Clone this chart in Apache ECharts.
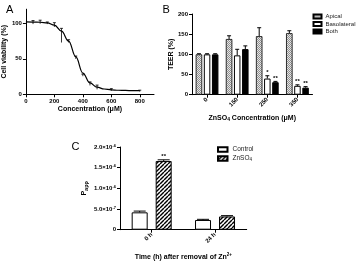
<!DOCTYPE html>
<html><head><meta charset="utf-8">
<script src="https://cdn.jsdelivr.net/npm/echarts@6/dist/echarts.min.js"></script>
<style>html,body{margin:0;padding:0;background:#fff}#c{width:356px;height:262px}</style>
</head><body><div id="c"></div>
<script>
// ---- Panel A: cell viability ----
const aTicksX = [0, 200, 400, 600, 800];
const aTicksY = [0, 50, 100];
const aConc = [50, 100, 150, 200, 250, 300, 350, 400, 450, 500, 600, 800];
const aMean = [101.5, 102, 100.5, 98, 83, 75, 52, 27, 15, 10, 6.5, 4.8];
const aErr  = [2.5, 2.5, 1.5, 3, 10, 2, 2, 1.5, 2.5, 3, 1.5, 1];
const aFitX = [0, 50, 100, 150, 200, 250, 300, 350, 400, 450, 500, 550, 600, 650, 700, 750, 800];
const aFitY = [102, 101.9, 101.6, 100.8, 97.5, 89, 75, 53, 30, 16, 10, 7.5, 6.3, 5.7, 5.4, 5.2, 5.1];
// ---- Panel B: TEER ----
const bCats = ['0', '150', '250', '350'];
const bTicksY = [0, 50, 100, 150, 200];
const bApical = [100, 138, 145, 152.5];
const bApicalErr = [1.5, 8, 21, 6];
const bBaso = [100, 97.5, 40, 22];
const bBasoErr = [1.5, 15, 7, 2.5];
const bBoth = [100, 113, 31, 17.5];
const bBothErr = [1.5, 8, 2, 2.5];
const bBasoStars = ['', '', '*', '**'];
const bBothStars = ['', '', '**', '**'];
// ---- Panel C: Papp ----
const cCats = ['0 h', '24 h'];
const cControl = [4.2e-7, 2.35e-7];
const cControlErr = [0.3e-7, 0.16e-7];
const cZn = [1.66e-6, 3.2e-7];
const cZnErr = [0.03e-6, 0.2e-7];
const cZnStars = ['**', ''];
const cTickLabels = [['0', ''], ['5.0×10', '-7'], ['1.0×10', '-6'], ['1.5×10', '-6'], ['2.0×10', '-6']];

const FONT = 'Arial, "Liberation Sans", sans-serif';

function makePattern(w, h, draw) {
  const c = document.createElement('canvas');
  c.width = w; c.height = h;
  draw(c.getContext('2d'));
  return { image: c, repeat: 'repeat' };
}
const apicalPat = makePattern(2, 2, ctx => {
  ctx.fillStyle = '#e6e6e6'; ctx.fillRect(0, 0, 2, 2);
  ctx.fillStyle = '#8f8f8f'; ctx.fillRect(0, 0, 1, 1); ctx.fillRect(1, 1, 1, 1);
});
const stripePat = makePattern(4, 4, ctx => {
  ctx.fillStyle = '#fff'; ctx.fillRect(0, 0, 4, 4);
  ctx.strokeStyle = '#000'; ctx.lineWidth = 1.4;
  for (const k of [-4, 0, 4]) { ctx.beginPath(); ctx.moveTo(k, 4); ctx.lineTo(k + 4, 0); ctx.stroke(); }
});

function errBar(xi, yi, xs, means, errs, offset, capHalf, stars, twoSided) {
  return {
    type: 'custom', xAxisIndex: xi, yAxisIndex: yi, z: 5, silent: true,
    data: means.map((m, i) => [xs ? xs[i] : i, m, errs[i]]),
    encode: { x: 0, y: 1 },
    renderItem: (params, api) => {
      const xv = api.value(0), m = api.value(1), e = api.value(2);
      const p0 = api.coord([xv, twoSided ? m - e : m]);
      const p1 = api.coord([xv, m + e]);
      const x = p0[0] + offset;
      const st = { stroke: '#000', lineWidth: twoSided ? 0.8 : 1 };
      const ch = [
        { type: 'line', shape: { x1: x, y1: p0[1], x2: x, y2: p1[1] }, style: st },
        { type: 'line', shape: { x1: x - capHalf, y1: p1[1], x2: x + capHalf, y2: p1[1] }, style: st }
      ];
      const s = stars && stars[params.dataIndex];
      if (s) ch.push({ type: 'text', style: { x: x, y: p1[1] - 0.5, text: s, fill: '#000', font: 'bold 6px ' + FONT, align: 'center', verticalAlign: 'bottom' } });
      return { type: 'group', children: ch };
    }
  };
}

const tickLbl = { fontSize: 6, fontWeight: 'bold', color: '#000', fontFamily: FONT };
const nameTs = { fontSize: 7, fontWeight: 'bold', color: '#000', fontFamily: FONT };
const axLine = { show: true, lineStyle: { color: '#000', width: 1 } };
const axTick = { show: true, length: 3, lineStyle: { color: '#000', width: 1 } };

const bBarW = 6.5, bGap = 0.25;
const bOff = bBarW * (1 + bGap);
const cBarW = 16, cGap = 0.5;
const cOff = cBarW * (1 + cGap) / 2;

const chart = echarts.init(document.getElementById('c'), null, { renderer: 'canvas' });
chart.setOption({
  animation: false,
  backgroundColor: '#fff',
  title: [
    { text: 'A', left: 1, top: -1, textStyle: { fontSize: 11, fontWeight: 'normal', color: '#000', fontFamily: FONT } },
    { text: 'B', left: 157.5, top: -1, textStyle: { fontSize: 11, fontWeight: 'normal', color: '#000', fontFamily: FONT } },
    { text: 'C', left: 66.5, top: 136, textStyle: { fontSize: 11, fontWeight: 'normal', color: '#000', fontFamily: FONT } }
  ],
  grid: [
    { left: 25.5, top: 9.2, width: 128.5, height: 85.1 },
    { left: 192, top: 14, width: 120.5, height: 80.7 },
    { left: 120, top: 147, width: 126.7, height: 82.7 }
  ],
  legend: [
    { data: ['Apical', 'Basolateral', 'Both'], orient: 'vertical', left: 307.5, top: 8.5,
      itemWidth: 8, itemHeight: 4, itemGap: 1.5, icon: 'rect',
      textStyle: { fontSize: 6, color: '#222', fontFamily: FONT, padding: [0, 0, 0, -1] } },
    { data: ['Control', 'ZnSO4'], orient: 'vertical', left: 212, top: 141,
      itemWidth: 9.5, itemHeight: 4.5, itemGap: 2, icon: 'rect',
      formatter: n => n === 'ZnSO4' ? '{a|ZnSO}{s|4}' : '{a|' + n + '}',
      textStyle: { color: '#222', fontFamily: FONT,
        rich: { a: { fontSize: 6.5, color: '#222', fontFamily: FONT }, s: { fontSize: 4.5, color: '#222', fontFamily: FONT, verticalAlign: 'bottom', padding: [3, 0, 0, 0] } } } }
  ],
  xAxis: [
    { type: 'value', gridIndex: 0, min: 0, max: 900,
      name: 'Concentration (μM)', nameLocation: 'middle', nameGap: 11, nameTextStyle: nameTs,
      axisLine: axLine, axisTick: Object.assign({ customValues: aTicksX }, axTick),
      axisLabel: Object.assign({ customValues: aTicksX, margin: 4 }, tickLbl), splitLine: { show: false } },
    { type: 'category', gridIndex: 1, data: bCats,
      name: '{a|ZnSO}{s|4}{a| Concentration (μM)}', nameLocation: 'middle', nameGap: 19,
      nameTextStyle: Object.assign({}, nameTs, { rich: { a: nameTs, s: { fontSize: 5, fontWeight: 'bold', color: '#000', fontFamily: FONT, verticalAlign: 'bottom', padding: [3, 0, 0, 0] } } }),
      axisLine: axLine, axisTick: Object.assign({ alignWithLabel: true }, axTick),
      axisLabel: Object.assign({ rotate: 45, margin: 4 }, tickLbl) },
    { type: 'category', gridIndex: 2, data: cCats,
      name: '{a|Time (h) after removal of Zn}{s|2+}', nameLocation: 'middle', nameGap: 23,
      nameTextStyle: Object.assign({}, nameTs, { rich: { a: nameTs, s: { fontSize: 4.5, fontWeight: 'bold', color: '#000', fontFamily: FONT, verticalAlign: 'top', padding: [0, 0, 3, 0] } } }),
      axisLine: axLine, axisTick: Object.assign({ alignWithLabel: true }, axTick),
      axisLabel: Object.assign({ rotate: 45, margin: 4 }, tickLbl) }
  ],
  yAxis: [
    { type: 'value', gridIndex: 0, min: 0, max: 120,
      name: 'Cell viability (%)', nameLocation: 'middle', nameGap: 15, nameTextStyle: nameTs,
      axisLine: axLine, axisTick: Object.assign({ customValues: aTicksY }, axTick),
      axisLabel: Object.assign({ customValues: aTicksY, margin: 4 }, tickLbl), splitLine: { show: false } },
    { type: 'value', gridIndex: 1, min: 0, max: 200, interval: 50,
      name: 'TEER (%)', nameLocation: 'middle', nameGap: 16, nameTextStyle: nameTs,
      axisLine: axLine, axisTick: axTick,
      axisLabel: Object.assign({ margin: 4 }, tickLbl), splitLine: { show: false } },
    { type: 'value', gridIndex: 2, min: 0, max: 2e-6, interval: 5e-7,
      name: '{a|P}{s|app}', nameLocation: 'middle', nameGap: 31,
      nameTextStyle: Object.assign({}, nameTs, { rich: { a: nameTs, s: { fontSize: 5.5, fontWeight: 'bold', color: '#000', fontFamily: FONT, verticalAlign: 'bottom', padding: [3, 0, 0, 0] } } }),
      axisLine: axLine, axisTick: axTick,
      axisLabel: Object.assign({ margin: 4,
        formatter: (v, i) => { const l = cTickLabels[i]; return l[1] ? '{m|' + l[0] + '}{s|' + l[1] + '}' : '{m|' + l[0] + '}'; },
        rich: { m: tickLbl, s: { fontSize: 4, fontWeight: 'bold', color: '#000', fontFamily: FONT, verticalAlign: 'top', padding: [0, 0, 3, 0] } } }, tickLbl),
      splitLine: { show: false } }
  ],
  series: [
    { type: 'line', xAxisIndex: 0, yAxisIndex: 0, data: aFitX.map((x, i) => [x, aFitY[i]]),
      smooth: 0.4, smoothMonotone: 'x', showSymbol: false, lineStyle: { color: '#000', width: 1.2 }, silent: true },
    errBar(0, 0, aConc, aMean, aErr, 0, 1.5, null, true),
    { name: 'Apical', type: 'bar', xAxisIndex: 1, yAxisIndex: 1, data: bApical, barWidth: bBarW,
      itemStyle: { color: apicalPat, borderColor: '#000', borderWidth: 0.8 } },
    { name: 'Basolateral', type: 'bar', xAxisIndex: 1, yAxisIndex: 1, data: bBaso, barWidth: bBarW,
      itemStyle: { color: '#fff', borderColor: '#000', borderWidth: 1 } },
    { name: 'Both', type: 'bar', xAxisIndex: 1, yAxisIndex: 1, data: bBoth, barWidth: bBarW, barGap: (bGap * 100) + '%',
      itemStyle: { color: '#000', borderColor: '#000', borderWidth: 1 } },
    errBar(1, 1, null, bApical, bApicalErr, -bOff, 2, null, false),
    errBar(1, 1, null, bBaso, bBasoErr, 0, 2, bBasoStars, false),
    errBar(1, 1, null, bBoth, bBothErr, bOff, 2, bBothStars, false),
    { name: 'Control', type: 'bar', xAxisIndex: 2, yAxisIndex: 2, data: cControl, barWidth: cBarW,
      itemStyle: { color: '#fff', borderColor: '#000', borderWidth: 1 } },
    { name: 'ZnSO4', type: 'bar', xAxisIndex: 2, yAxisIndex: 2, data: cZn, barWidth: cBarW, barGap: (cGap * 100) + '%',
      itemStyle: { color: stripePat, borderColor: '#000', borderWidth: 1 } },
    errBar(2, 2, null, cControl, cControlErr, -cOff, 6, null, false),
    errBar(2, 2, null, cZn, cZnErr, cOff, 6, cZnStars, false)
  ]
});
</script></body></html>
